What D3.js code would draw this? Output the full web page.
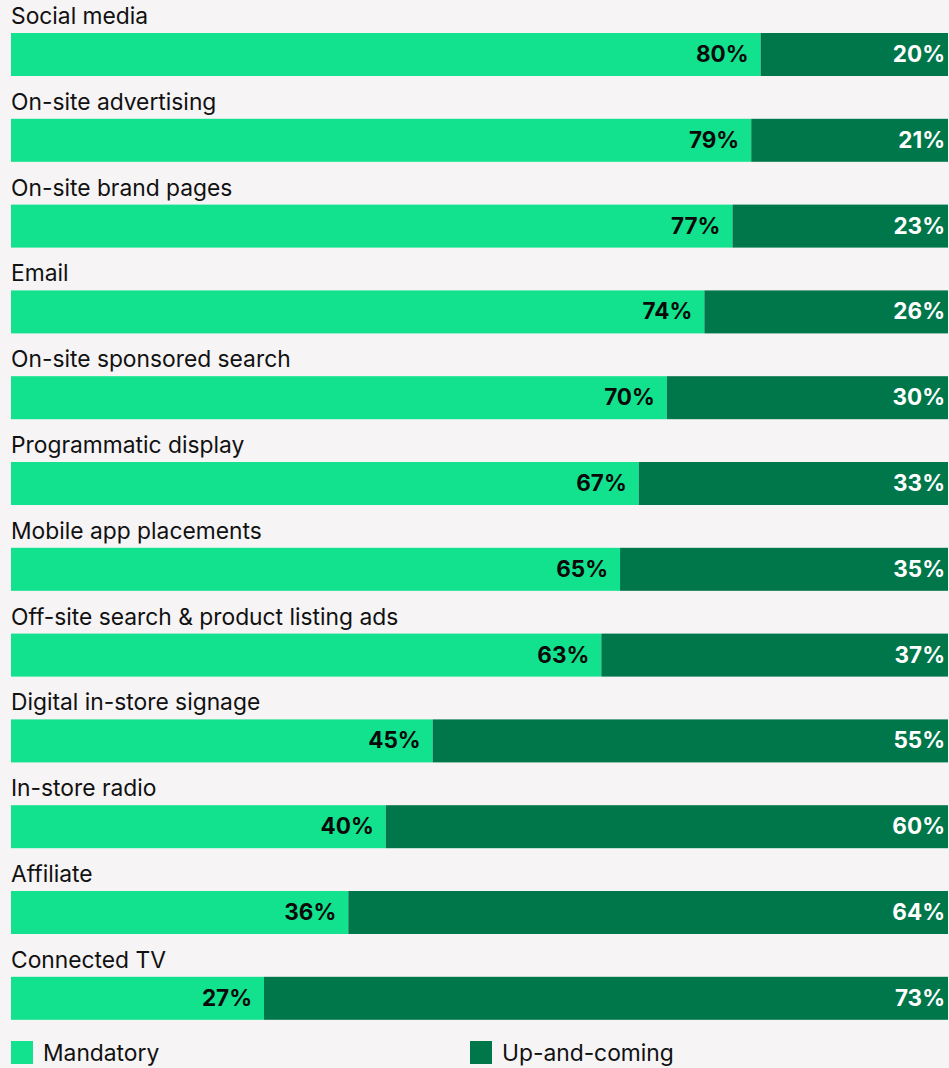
<!DOCTYPE html>
<html>
<head>
<meta charset="utf-8">
<script src="https://cdn.jsdelivr.net/npm/d3@7"></script>
<style>
  html, body { margin: 0; padding: 0; background: #F6F4F5; }
  svg { display: block; font-family: Inter, "Noto Sans", sans-serif; }
</style>
</head>
<body>
<svg id="chart" width="949" height="1068"></svg>
<script>
// Channels and their share of respondents
const categories = [
  "Social media",
  "On-site advertising",
  "On-site brand pages",
  "Email",
  "On-site sponsored search",
  "Programmatic display",
  "Mobile app placements",
  "Off-site search & product listing ads",
  "Digital in-store signage",
  "In-store radio",
  "Affiliate",
  "Connected TV"
];
const mandatory   = [80, 79, 77, 74, 70, 67, 65, 63, 45, 40, 36, 27];
const upAndComing = [20, 21, 23, 26, 30, 33, 35, 37, 55, 60, 64, 73];
const seriesNames = ["Mandatory", "Up-and-coming"];
const colors = ["#12E28E", "#00774A"];

const svg = d3.select("#chart");
const rows = categories.map((c, i) => ({ cat: c, m: mandatory[i], u: upAndComing[i] }));

const x = d3.scaleLinear().domain([0, 100]).range([11, 948]);
const y = d3.scaleBand().domain(categories).range([0, 1029.6]).paddingInner(0).paddingOuter(0);
const barTop = 33, barH = 43;

const g = svg.selectAll("g.row").data(rows).join("g")
  .attr("class", "row")
  .attr("transform", d => `translate(0,${y(d.cat)})`);

g.append("text")
  .attr("x", 11).attr("y", 24)
  .attr("font-size", 22.8).attr("fill", "#111")
  .text(d => d.cat);

g.append("rect")
  .attr("x", x(0)).attr("y", barTop)
  .attr("width", d => x(d.m) - x(0)).attr("height", barH)
  .attr("fill", colors[0]);

g.append("rect")
  .attr("x", d => x(d.m)).attr("y", barTop)
  .attr("width", d => x(d.m + d.u) - x(d.m)).attr("height", barH)
  .attr("fill", colors[1]);

g.append("text")
  .attr("x", d => x(d.m) - 12).attr("y", barTop + 29)
  .attr("text-anchor", "end").attr("font-size", 22.5).attr("font-weight", 700)
  .attr("fill", "#0a0a0a")
  .text(d => d.m + "%");

g.append("text")
  .attr("x", d => x(d.m + d.u) - 3).attr("y", barTop + 29)
  .attr("text-anchor", "end").attr("font-size", 22.5).attr("font-weight", 700)
  .attr("fill", "#ffffff")
  .text(d => d.u + "%");

// Legend
const legendX = [11, 470];
const lg = svg.selectAll("g.legend").data(seriesNames).join("g")
  .attr("class", "legend")
  .attr("transform", (d, i) => `translate(${legendX[i]},1041)`);
lg.append("rect").attr("width", 22).attr("height", 23).attr("fill", (d, i) => colors[i]);
lg.append("text").attr("x", 32).attr("y", 20).attr("font-size", 22.8).attr("fill", "#111").text(d => d);
</script>
</body>
</html>
